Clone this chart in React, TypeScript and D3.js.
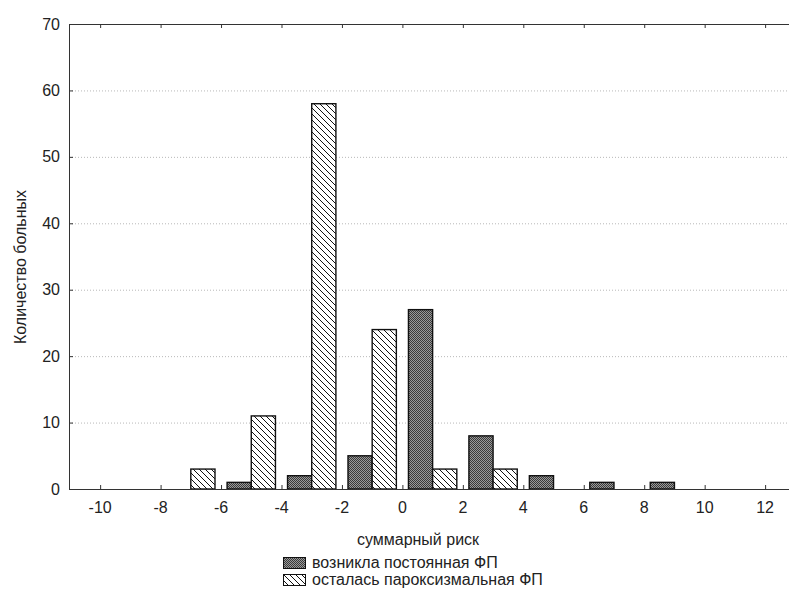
import React from "react";
import * as d3 from "d3";

const categories = [-7, -5, -3, -1, 1, 3, 5, 7, 9];
const persistentAF = [0, 1, 2, 5, 27, 8, 2, 1, 1];
const paroxysmalAF = [3, 11, 58, 24, 3, 3, 0, 0, 0];
const xTicks = [-10, -8, -6, -4, -2, 0, 2, 4, 6, 8, 10, 12];
const yTicks = [0, 10, 20, 30, 40, 50, 60, 70];
const seriesNames = ["возникла постоянная ФП", "осталась пароксизмальная ФП"];
const xTitle = "суммарный риск";
const yTitle = "Количество больных";

const W = 789;
const H = 594;
const left = 69;
const right = 789;
const top = 24;
const bottom = 489;
const barW = 0.8;

export default function App() {
  const x = d3.scaleLinear().domain([-11.03, 12.79]).range([left, right]);
  const y = d3.scaleLinear().domain([0, 70]).range([bottom, top]);
  const font = "Arial, 'Liberation Sans', sans-serif";
  const textCol = "#222";

  const bars: { x0: number; x1: number; v: number; s: number }[] = [];
  categories.forEach((c, i) => {
    if (persistentAF[i] > 0) bars.push({ x0: c - barW, x1: c, v: persistentAF[i], s: 0 });
    if (paroxysmalAF[i] > 0) bars.push({ x0: c, x1: c + barW, v: paroxysmalAF[i], s: 1 });
  });

  return (
    <svg
      width={W}
      height={H}
      style={{ position: "absolute", left: 0, top: 0, background: "#fff" }}
      fontFamily={font}
    >
      <defs>
        <pattern id="dither" width="2" height="2" patternUnits="userSpaceOnUse">
          <rect width="2" height="2" fill="#9a9a9a" />
          <rect width="1" height="1" fill="#3a3a3a" />
          <rect x="1" y="1" width="1" height="1" fill="#3a3a3a" />
        </pattern>
        <pattern id="hatch" width="6" height="6" patternUnits="userSpaceOnUse">
          <rect width="6" height="6" fill="#fff" />
          <path d="M0,0 L6,6 M-3,3 L0,6 M6,0 L9,3 M3,-3 L6,0" stroke="#111" strokeWidth="1" />
          <path d="M-1,5 L1,7 M5,-1 L7,1" stroke="#111" strokeWidth="1" />
        </pattern>
      </defs>

      {/* grid */}
      {yTicks.filter((t) => t > 0 && t < 70).map((t) => (
        <line key={"g" + t} x1={left} x2={right} y1={y(t) + 0.5} y2={y(t) + 0.5}
          stroke="#b8b8b8" strokeWidth={1} strokeDasharray="1,2" />
      ))}

      {/* bars */}
      {bars.map((b, i) => (
        <rect key={i} x={x(b.x0)} y={y(b.v)} width={x(b.x1) - x(b.x0)} height={y(0) - y(b.v)}
          fill={b.s === 0 ? "url(#dither)" : "url(#hatch)"} stroke="#111" strokeWidth={1.4} />
      ))}

      {/* axes */}
      <line x1={left + 0.5} x2={left + 0.5} y1={top} y2={bottom} stroke="#333" />
      <line x1={left} x2={right} y1={top + 0.5} y2={top + 0.5} stroke="#333" />
      <line x1={left} x2={right} y1={bottom + 0.5} y2={bottom + 0.5} stroke="#333" />

      {xTicks.map((t) => (
        <g key={"x" + t}>
          <line x1={x(t) + 0.5} x2={x(t) + 0.5} y1={bottom} y2={bottom - 4} stroke="#333" />
          <line x1={x(t) + 0.5} x2={x(t) + 0.5} y1={top} y2={top + 4} stroke="#333" />
          <text x={x(t)} y={513} textAnchor="middle" fontSize={16} fill={textCol}>{t}</text>
        </g>
      ))}
      {yTicks.map((t) => (
        <g key={"y" + t}>
          <line x1={left} x2={left + 4} y1={y(t) + 0.5} y2={y(t) + 0.5} stroke="#333" />
          <text x={60} y={y(t)} dy="0.35em" textAnchor="end" fontSize={16} fill={textCol}>{t}</text>
        </g>
      ))}

      <text x={418} y={545} textAnchor="middle" fontSize={16} fill={textCol}>{xTitle}</text>
      <text transform={`translate(26,267) rotate(-90)`} textAnchor="middle" fontSize={16} fill={textCol}>{yTitle}</text>

      {/* legend */}
      {seriesNames.map((n, i) => (
        <g key={n} transform={`translate(283,${557 + i * 17})`}>
          <rect x={0.5} y={0.5} width={22} height={11} fill={i === 0 ? "url(#dither)" : "url(#hatch)"} stroke="#111" />
          <text x={29} y={11} fontSize={16} fill={textCol}>{n}</text>
        </g>
      ))}
    </svg>
  );
}
